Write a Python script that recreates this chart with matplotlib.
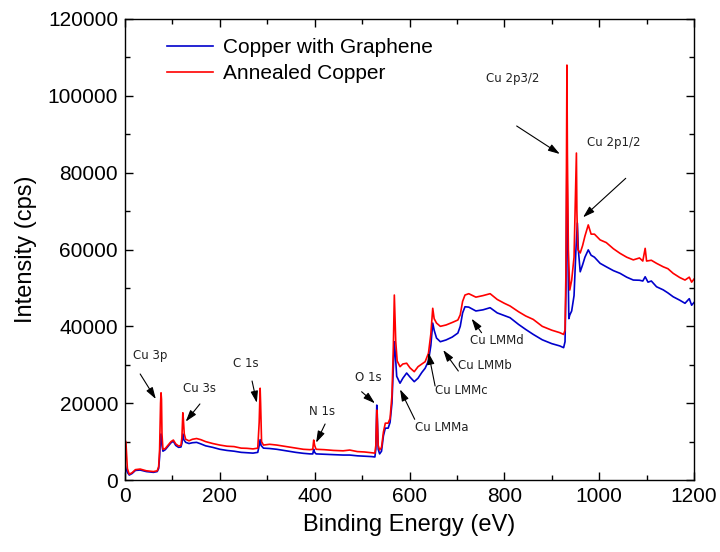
import matplotlib
matplotlib.use("Agg")
import matplotlib.pyplot as plt
import numpy as np

plt.rcParams['font.family'] = ['Liberation Sans', 'DejaVu Sans']

# survey spectra (binding energy in eV, intensity in cps)
graphene_ev = [0, 2, 5, 9, 15, 22, 32, 45, 60, 68, 71, 73, 75, 76, 78, 80, 85, 91, 97, 102,
               107, 113, 118, 120, 122, 124, 128, 135, 142, 151, 160, 170, 185, 200, 215, 230,
               245, 257, 270, 280, 283, 285, 287, 292, 305, 320, 340, 360, 376, 390, 396, 398,
               400, 403, 420, 440, 460, 474, 490, 505, 520, 527, 529, 531, 532, 534, 537, 541,
               545, 549, 555, 559, 563, 566, 568, 570, 573, 580, 586, 594, 601, 610, 618, 626,
               633, 640, 645, 649, 652, 657, 665, 677, 690, 702, 707, 712, 717, 725, 740, 755,
               770, 785, 800, 812, 830, 845, 861, 880, 900, 917, 925, 928, 930, 932, 934, 936,
               938, 942, 947, 951, 954, 956, 960, 965, 970, 977, 983, 990, 1002, 1015, 1030,
               1044, 1058, 1072, 1085, 1092, 1097, 1103, 1110, 1121, 1135, 1145, 1156, 1170,
               1181, 1190, 1195, 1200]
graphene_cps = [4200, 3000, 2000, 1300, 1700, 2500, 2600, 2200, 2000, 2200, 3000, 6000, 11500,
                12000, 9000, 7500, 7900, 8800, 9700, 10100, 9000, 8500, 8600, 9500, 12000,
                10500, 9800, 9500, 9700, 9800, 9400, 8900, 8500, 8000, 7700, 7500, 7200, 7100,
                7000, 7200, 9000, 10500, 9000, 8300, 8200, 8000, 7600, 7200, 6950, 6800, 6800,
                8000, 7200, 6800, 6700, 6600, 6500, 6500, 6300, 6200, 6100, 6000, 8000, 19500,
                17000, 8000, 6800, 7500, 11500, 13500, 13500, 15000, 20000, 30000, 36000,
                33000, 27000, 25200, 26500, 27850, 26800, 25600, 26500, 28000, 29100, 31000,
                35000, 40850, 39000, 36950, 36000, 36450, 37200, 38250, 40000, 43500, 45100,
                45000, 44000, 44300, 44850, 43500, 42800, 42250, 40500, 39200, 37900, 36500,
                35500, 34900, 34450, 36000, 50000, 84000, 60000, 42000, 42950, 44000, 48000,
                60000, 66900, 60000, 54200, 56000, 58000, 59900, 58500, 58000, 56400, 55500,
                54500, 53800, 52800, 52050, 52000, 51800, 52900, 51500, 51800, 50300, 49500,
                48700, 47700, 46800, 46000, 47200, 45500, 46200]

annealed_ev = [0, 2, 5, 9, 15, 22, 32, 45, 60, 68, 71, 73, 75, 76, 77, 78, 80, 85, 91, 97,
               102, 107, 113, 118, 120, 122, 123, 125, 128, 135, 142, 151, 160, 170, 185, 200,
               215, 230, 245, 257, 270, 280, 283, 285, 286, 288, 292, 305, 320, 340, 360, 376,
               390, 396, 398, 400, 403, 420, 440, 460, 474, 490, 505, 520, 527, 529, 531, 532,
               534, 537, 541, 545, 549, 555, 559, 563, 566, 568, 569, 571, 574, 580, 586, 594,
               601, 610, 618, 626, 633, 640, 645, 649, 652, 657, 665, 677, 690, 702, 707, 712,
               717, 725, 740, 755, 770, 785, 800, 812, 830, 845, 861, 880, 900, 917, 925, 928,
               930, 931, 932, 933, 935, 938, 942, 947, 950, 952, 953, 955, 960, 965, 970, 977,
               983, 990, 1002, 1015, 1030, 1044, 1058, 1072, 1085, 1092, 1097, 1100, 1110,
               1121, 1135, 1145, 1156, 1170, 1181, 1190, 1195, 1200]
annealed_cps = [10500, 9800, 3000, 1500, 1900, 2700, 2850, 2400, 2200, 2400, 3500, 8000, 20000,
                22700, 21000, 12000, 8000, 8200, 9100, 10000, 10400, 9400, 8850, 9000, 11000,
                17500, 16000, 12000, 10600, 10200, 10600, 10800, 10500, 10000, 9500, 9100,
                8800, 8700, 8300, 8250, 8100, 8300, 15000, 23900, 20000, 10000, 9100, 9300,
                9100, 8700, 8300, 8000, 7900, 8000, 10400, 9000, 8000, 7900, 7700, 7600, 7800,
                7400, 7300, 7100, 7000, 9000, 18200, 16000, 9000, 7800, 8500, 12500, 14800,
                14800, 16000, 22000, 35000, 48150, 44000, 36000, 31000, 29500, 30200, 30400,
                29200, 28200, 29500, 30200, 30800, 33000, 38000, 44700, 42000, 40850, 40000,
                40350, 41000, 41650, 43000, 46500, 48150, 48500, 47600, 48000, 48500, 47000,
                46000, 45300, 43800, 42700, 41800, 40000, 39000, 38350, 37900, 39000, 55000,
                85000, 108000, 85000, 60000, 49450, 52000, 58000, 75000, 85100, 70000, 60000,
                59100, 61000, 63500, 66400, 64000, 64000, 62500, 61800, 60200, 59000, 58000,
                57300, 57800, 57000, 60300, 57000, 57200, 56400, 55500, 55000, 53800, 52700,
                52050, 52800, 51500, 52300]

# peak labels: text, text position, arrow tail, arrow head (data units)
labels = ["Cu 3p", "Cu 3s", "C 1s", "N 1s", "O 1s", "Cu LMMa", "Cu LMMc", "Cu LMMb",
          "Cu LMMd", "Cu 2p3/2", "Cu 2p1/2"]
text_xy = [(53, 32300), (158, 23700), (254, 30450), (415, 17960), (514, 26800),
           (612, 13800), (654, 23430), (702, 29930), (727, 36440), (818, 104380),
           (1030, 87980)]
tail_xy = [(32, 27600), (158, 19800), (268, 25770), (422, 14580), (499, 22980),
           (611, 15800), (654, 24470), (703, 28370), (752, 38340), (826, 92150),
           (1056, 78530)]
head_xy = [(65, 21080), (128, 15200), (278, 20100), (403, 9710), (527, 19970),
           (580, 23600), (640, 33140), (671, 33840), (731, 41990), (917, 84860),
           (966, 68380)]
text_ha = ["center", "center", "center", "center", "center", "left", "left", "left",
           "left", "center", "center"]

fig = plt.figure(figsize=(7.2, 5.52), dpi=100)
ax = fig.add_axes([0.1736, 0.1304, 0.7903, 0.8352])

ax.plot(graphene_ev, graphene_cps, color='#0000cc', lw=1.2, label='Copper with Graphene')
ax.plot(annealed_ev, annealed_cps, color='#ff0000', lw=1.2, label='Annealed Copper')

for lab, txy, t0, h0, ha in zip(labels, text_xy, tail_xy, head_xy, text_ha):
    ax.annotate('', xy=h0, xytext=t0,
                arrowprops=dict(arrowstyle='-|>,head_length=0.7,head_width=0.22',
                                color='black', lw=0.8, shrinkA=0, shrinkB=0))
    ax.text(txy[0], txy[1], lab, ha=ha, va='center', fontsize=8.5,
            family=['DejaVu Sans'], color='#222222')

ax.set_xlim(0, 1200)
ax.set_ylim(0, 120000)
ax.set_xticks(np.arange(0, 1201, 200))
ax.set_xticks(np.arange(0, 1201, 100), minor=True)
ax.set_yticks(np.arange(0, 120001, 20000))
ax.set_yticks(np.arange(0, 120001, 10000), minor=True)
ax.tick_params(which='both', direction='in', top=True, right=True, labelsize=15, pad=5)
ax.tick_params(which='major', length=6, width=1.0)
ax.tick_params(which='minor', length=3.5, width=1.0)
for s in ax.spines.values():
    s.set_linewidth(1.0)

ax.set_xlabel('Binding Energy (eV)', fontsize=17, labelpad=6)
ax.set_ylabel('Intensity (cps)', fontsize=17, labelpad=8)

ax.legend(loc='upper left', bbox_to_anchor=(0.049, 0.99), frameon=False, fontsize=15,
          handlelength=2.2, handletextpad=0.45, labelspacing=0.32, borderpad=0.2)

fig.savefig('out.png', dpi=100)
